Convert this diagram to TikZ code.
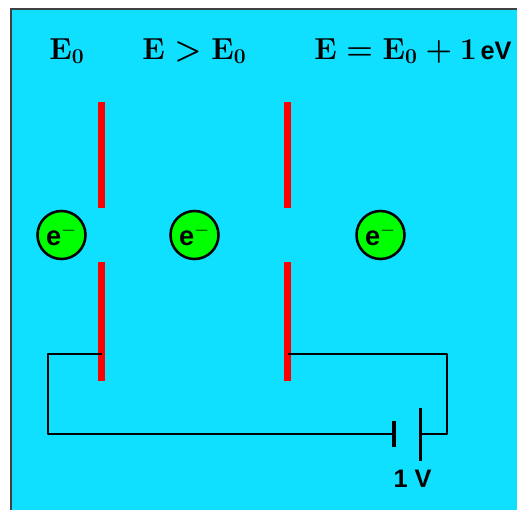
\documentclass[tikz,border=0pt]{standalone}
\usepackage{fontspec}
\newfontfamily\labelfont{Liberation Sans}[Scale=1]
\DeclareMathSizes{16}{16}{12.5}{10}
\DeclareMathSizes{15.5}{15.5}{11}{9}
\definecolor{tankblue}{RGB}{16,224,255}
\definecolor{electrongreen}{RGB}{0,255,0}
\tikzset{
	plate/.style={red, line width=.14cm},
	wire/.style={line width=1.45pt, line join=round},
	electron/.style={circle, draw, fill=electrongreen, line width=1.45pt, minimum size=.96cm, inner sep=0pt, font=\fontsize{15.5}{17}\labelfont\bfseries},
	energy/.style={anchor=base west, inner sep=0pt, font=\fontsize{16}{18}\selectfont\boldmath},
	volt/.style={inner sep=0pt, font=\fontsize{14.4}{17}\labelfont\bfseries}
}

\begin{document}
\begin{tikzpicture}
		\useasboundingbox (0, 0) rectangle (10.34, 10.18);
		\clip (0, 0) rectangle (10.34, 10.18);
		\draw [line width=1.1pt, draw=black!75, fill=tankblue] (.22, -1) rectangle (11, 10);
		\node [energy] (energyA) at (.98, 9) {$\mathbf{E_0}$};
		\node [energy] (energyB) at (2.84, 9) {$\mathbf{E > E_0}$};
		\node [energy] (energyC) at (6.28, 9) {$\mathbf{E = E_0 + 1}$\kern2pt{\labelfont\bfseries\fontsize{14.4}{16}\selectfont eV}};
		\draw [plate] (2.03, 8.14) -- (2.03, 6.02);
		\draw [plate] (2.03, 4.94) -- (2.03, 2.56);
		\draw [plate] (5.75, 8.14) -- (5.75, 6.02);
		\draw [plate] (5.75, 4.94) -- (5.75, 2.56);
		\node [electron] (electronA) at (1.23, 5.48) {e$^{-}$};
		\node [electron] (electronB) at (3.89, 5.48) {e$^{-}$};
		\node [electron] (electronC) at (7.61, 5.48) {e$^{-}$};
		\coordinate (contactA) at (2.03, 3.1);
		\coordinate (contactB) at (5.75, 3.1);
		\coordinate (batteryA) at (7.88, 1.5);
		\coordinate (batteryB) at (8.41, 1.5);
		\draw [wire] (contactA) -- (.96, 3.1) -- (.96, 1.5) -- (batteryA);
		\draw [wire] (contactB) -- (8.94, 3.1) -- (8.94, 1.5) -- (batteryB);
		\draw [line width=2.4pt] (7.88, 1.76) -- (7.88, 1.24);
		\draw [wire] (8.41, 2.02) -- (8.41, .96);
		\node [volt] (voltage) at (8.25, .6) {1 V};
	\end{tikzpicture}
\end{document}
